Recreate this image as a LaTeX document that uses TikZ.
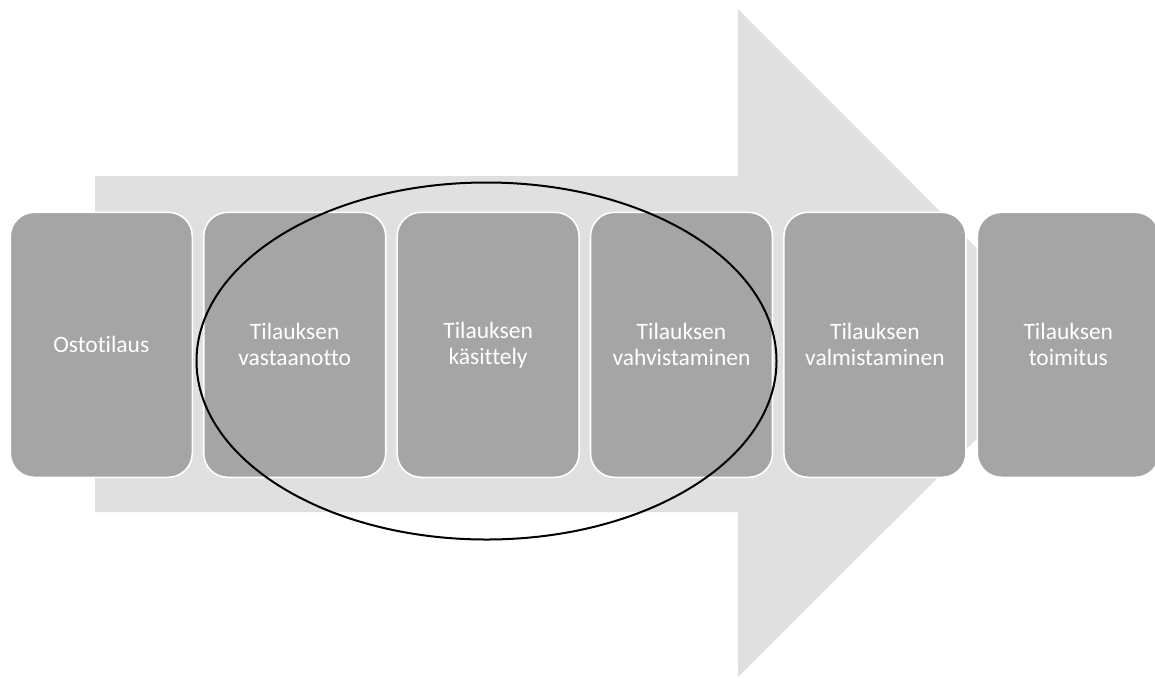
\documentclass[tikz,border=0pt]{standalone}
\usepackage{fontspec}
\setmainfont{Carlito}[Ligatures={NoCommon}]
\definecolor{arrowgray}{HTML}{E0E0E0}
\definecolor{stepgray}{HTML}{A5A5A5}
\tikzset{
  stepbox/.style={draw=white, line width=1.6pt, fill=stepgray, rounded corners=24pt,
    minimum width=182pt, minimum height=265pt, inner sep=0pt, anchor=north west,
    text=white, align=center, font=\fontsize{23.5}{26}\selectfont},
  ring/.style={draw=black, line width=2pt}
}
\begin{document}
\begin{tikzpicture}[x=1pt, y=-1pt]
  \useasboundingbox (0,0) rectangle (1155,678);
  % background arrow
  \fill[arrowgray] (95,176) -- (738,176) -- (738,9) -- (1072,343.5)
    -- (738,677) -- (738,512) -- (95,512) -- cycle;
  % process steps
  \node[stepbox] (s1) at (9.5,211.5) {Ostotilaus};
  \node[stepbox] (s2) at (202.9,211.5) {Tilauksen\\vastaanotto};
  \node[stepbox] (s3) at (396.3,211.5) {Tilauksen\\käsittely};
  \node[stepbox] (s4) at (589.7,211.5) {Tilauksen\\vahvistaminen};
  \node[stepbox] (s5) at (783.1,211.5) {Tilauksen\\valmistaminen};
  \node[stepbox] (s6) at (976.5,211.5) {Tilauksen\\toimitus};
  % highlight ring
  \draw[ring] (486.5,361) ellipse [x radius=290, y radius=178.5];
\end{tikzpicture}
\end{document}
